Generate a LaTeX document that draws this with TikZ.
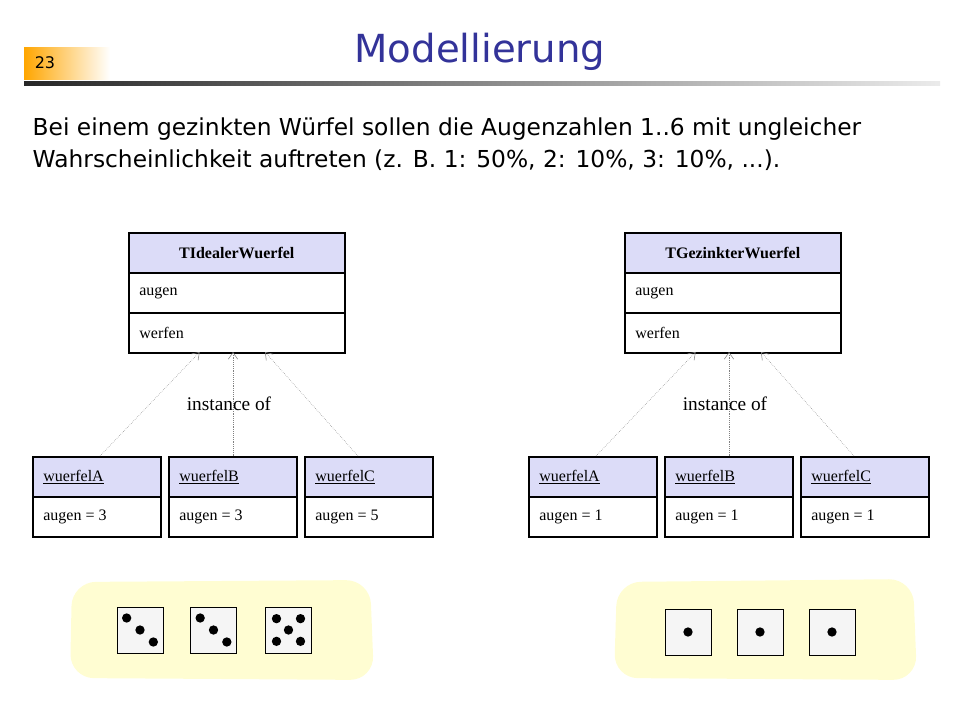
\documentclass[tikz,border=0pt]{standalone}
\usepackage{fontspec}
\setmainfont{Liberation Serif}
\newfontfamily\tah{DejaVu Sans}
\usetikzlibrary{arrows.meta}
\definecolor{hdr}{HTML}{DCDCF8}
\definecolor{blob}{HTML}{FFFDD2}
\definecolor{ttl}{HTML}{333399}
\begin{document}
\begin{tikzpicture}[x=0.75pt,y=-0.75pt,
  box/.style={draw,line width=1.2pt,anchor=north west,inner sep=0pt},
  hbox/.style={box,fill=hdr},
  lbl/.style={anchor=west,font=\fontsize{12}{13}\selectfont},
  inst/.style={draw=gray,densely dotted,-{Straight Barb[length=5pt,width=7pt]}},
  die/.style={draw,fill=gray!8,minimum size=34.5pt,inner sep=0pt,line width=0.6pt},
  pip/.style={fill,circle,inner sep=0pt,minimum size=7pt}]
\useasboundingbox (0,0) rectangle (960,720);
% header
\shade[left color=orange!70!yellow,right color=white] (24,48) rectangle (110,80);
\node[anchor=center,font=\tah\fontsize{12}{14}\selectfont] (num) at (45,63) {23};
\shade[left color=black!85,right color=black!8] (24,82) rectangle (940,86);
\node[font=\tah\fontsize{29}{30}\selectfont,text=ttl] (title) at (480,52) {Modellierung};
\node[anchor=west,align=left,font=\tah\fontsize{17.5}{24}\selectfont] (txt) at (28,144)
 {Bei einem gezinkten Würfel sollen die Augenzahlen 1..6 mit ungleicher\\Wahrscheinlichkeit auftreten (z. B. 1: 50\%, 2: 10\%, 3: 10\%, ...).};
% blobs
\fill[blob,rounded corners=18pt] (72,582) -- (370,580) -- (374,680) -- (70,678) -- cycle;
\fill[blob,rounded corners=18pt] (617,582) -- (913,579) -- (917,680) -- (614,678) -- cycle;
% classes
\foreach \n/\x/\t in {L/128/TIdealerWuerfel,R/624/TGezinkterWuerfel}{
  \node[hbox,minimum width=162pt,minimum height=30pt] (\n h) at (\x,232) {};
  \node[font=\bfseries\fontsize{12}{13}\selectfont] at (\n h.center) {\t};
  \node[box,minimum width=162pt,minimum height=30pt] (\n a) at (\x,272) {};
  \node[lbl] at ([xshift=5pt]\n a.west) {augen};
  \node[box,minimum width=162pt,minimum height=30pt] (\n w) at (\x,312) {};
  \node[lbl] at ([xshift=5pt]\n w.west) {werfen};
  \coordinate (\n bot) at (\x+105,352);
}
% objects
\foreach \n/\x/\c/\v in {LA/32/A/3,LB/168/B/3,LC/304/C/5,RA/528/A/1,RB/664/B/1,RC/800/C/1}{
  \node[hbox,minimum width=96pt,minimum height=30pt] (\n h) at (\x,456) {};
  \node[lbl] at ([xshift=5pt]\n h.west) {\underline{wuerfel\c}};
  \node[box,minimum width=96pt,minimum height=30pt] (\n v) at (\x,496) {};
  \node[lbl] at ([xshift=5pt]\n v.west) {augen = \v};
}
\foreach \s in {L,R}{
  \coordinate (\s t1) at ([xshift=-25pt]\s bot);
  \coordinate (\s t2) at (\s bot);
  \coordinate (\s t3) at ([xshift=24pt]\s bot);
  \draw[inst] ([xshift=51pt]\s Ah.north west) -- (\s t1);
  \draw[inst] ([xshift=48.75pt]\s Bh.north west) -- (\s t2);
  \draw[inst] ([xshift=40.5pt]\s Ch.north west) -- (\s t3);
}
\node[font=\fontsize{14.5}{15}\selectfont] (i1) at (229,404) {instance of};
\node[font=\fontsize{14.5}{15}\selectfont] (i2) at (725,404) {instance of};
% dice
\node[die] (d1) at (140,630) {};
\node[die] (d2) at (213.5,630) {};
\node[die] (d3) at (288.5,630) {};
\foreach \d in {d1,d2}{
  \node[pip] at ([shift={(-10pt,9pt)}]\d.center) {};
  \node[pip] at (\d.center) {};
  \node[pip] at ([shift={(10pt,-9pt)}]\d.center) {};
}
\foreach \a/\b in {-1/-1,1/-1,-1/1,1/1}{
  \node[pip] at ([shift={(\a*9pt,\b*8.5pt)}]d3.center) {};}
\node[pip] at (d3.center) {};
\node[die] (e1) at (688,632) {};
\node[die] (e2) at (760,632) {};
\node[die] (e3) at (832,632) {};
\foreach \d in {e1,e2,e3}{\node[pip] at (\d.center) {};}
\end{tikzpicture}
\end{document}
